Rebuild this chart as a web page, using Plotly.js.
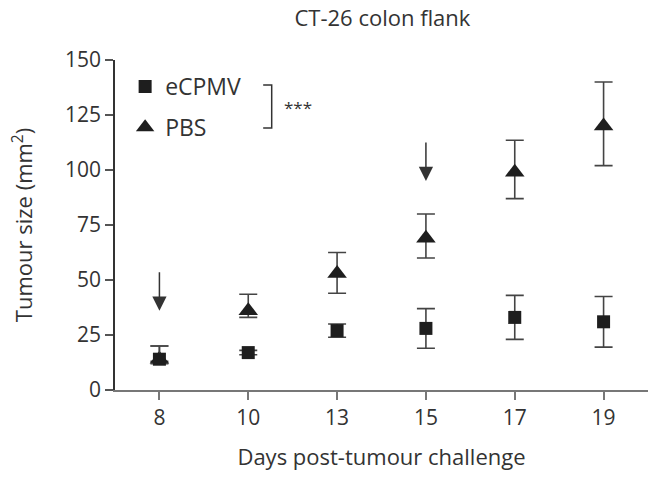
<!DOCTYPE html>
<html>
<head>
<meta charset="utf-8">
<script src="https://cdn.plot.ly/plotly-3.0.1.min.js"></script>
<style>
  body { margin: 0; background: #fff; }
  #grafico { width: 656px; height: 488px; }
</style>
</head>
<body>
<div id="grafico"></div>
<script>
// dias (categorias do eixo x)
var dias = ['8', '10', '13', '15', '17', '19'];

// eCPMV (quadrados)
var ecpmvMedia = [14, 17, 27, 28, 33, 31];
var ecpmvErroCima  = [6, 1, 3, 9, 10, 11.5];
var ecpmvErroBaixo = [2, 1, 3, 9, 10, 11.5];

// PBS (triangulos)
var pbsMedia = [14, 36, 53, 69, 99, 120];
var pbsErroCima  = [6, 7.5, 9.5, 11, 14.5, 20];
var pbsErroBaixo = [1, 3, 9, 9, 12, 18];

// setas de injecao
var setaDias = ['8', '15'];
var setaPonta = [36, 95];

var cor = '#333';
var eixoFonte = {family: 'Open Sans, sans-serif', size: 21, color: cor};

var data = [
    {
        x: dias, y: pbsMedia, name: 'PBS', mode: 'markers', legendgroup: 'b', legendrank: 2,
        marker: {symbol: 'triangle-up', size: 17, color: '#1e1e1e'},
        error_y: {type: 'data', symmetric: false, array: pbsErroCima, arrayminus: pbsErroBaixo,
                  visible: true, color: '#444', thickness: 1.6, width: 9}
    },
    {
        x: dias, y: ecpmvMedia, name: 'eCPMV', mode: 'markers', legendgroup: 'a', legendrank: 1,
        marker: {symbol: 'square', size: 13, color: '#1e1e1e'},
        error_y: {type: 'data', symmetric: false, array: ecpmvErroCima, arrayminus: ecpmvErroBaixo,
                  visible: true, color: '#444', thickness: 1.6, width: 9}
    }
];

// eixo categorico: a anotacao precisa do indice da categoria
var setas = setaDias.map(function(d, i) {
    return {
        x: dias.indexOf(d), y: setaPonta[i], xref: 'x', yref: 'y',
        ax: 0, ay: -40, showarrow: true, arrowhead: 2, arrowsize: 1.9,
        arrowwidth: 1.5, arrowcolor: cor, text: ''
    };
});

var layout = {
    width: 656, height: 488,
    margin: {l: 115, r: 8, t: 60, b: 98},
    paper_bgcolor: '#fff', plot_bgcolor: '#fff',
    font: {family: 'Open Sans, sans-serif', color: cor},
    title: {text: 'CT-26 colon flank', x: 0.583, xanchor: 'center', y: 0.963, yanchor: 'middle',
            font: {family: 'Open Sans, sans-serif', size: 22, color: cor}},
    showlegend: true,
    legend: {x: 0.019, y: 0.985, xanchor: 'left', yanchor: 'top', tracegroupgap: 8,
             traceorder: 'grouped', font: {size: 23, color: cor}, bgcolor: 'rgba(0,0,0,0)'},
    xaxis: {
        type: 'category', range: [-0.5, 5.5],
        showline: true, linecolor: '#777', linewidth: 1.5,
        ticks: 'outside', ticklen: 8, tickwidth: 1.5, tickcolor: '#777',
        showgrid: false, zeroline: false, tickfont: eixoFonte,
        title: {text: 'Days post-tumour challenge', font: {size: 22, color: cor}, standoff: 20}
    },
    yaxis: {
        range: [0, 150], tickvals: [0, 25, 50, 75, 100, 125, 150],
        showline: true, linecolor: cor, linewidth: 1.5,
        ticks: 'outside', ticklen: 8, tickwidth: 1.5, tickcolor: '#555',
        showgrid: false, zeroline: false, tickfont: eixoFonte,
        title: {text: 'Tumour size (mm<sup>2</sup>)', font: {size: 22, color: cor}, standoff: 26}
    },
    shapes: [{
        type: 'path', xref: 'paper', yref: 'paper',
        path: 'M 0.278 0.924 L 0.294 0.924 L 0.294 0.794 L 0.278 0.794',
        line: {color: cor, width: 1.5}
    }],
    annotations: setas.concat([{
        x: 0.314, y: 0.855, xref: 'paper', yref: 'paper', xanchor: 'left', yanchor: 'middle',
        text: '***', showarrow: false, font: {size: 17, color: cor}
    }])
};

Plotly.newPlot('grafico', data, layout, {displayModeBar: false});
</script>
</body>
</html>
